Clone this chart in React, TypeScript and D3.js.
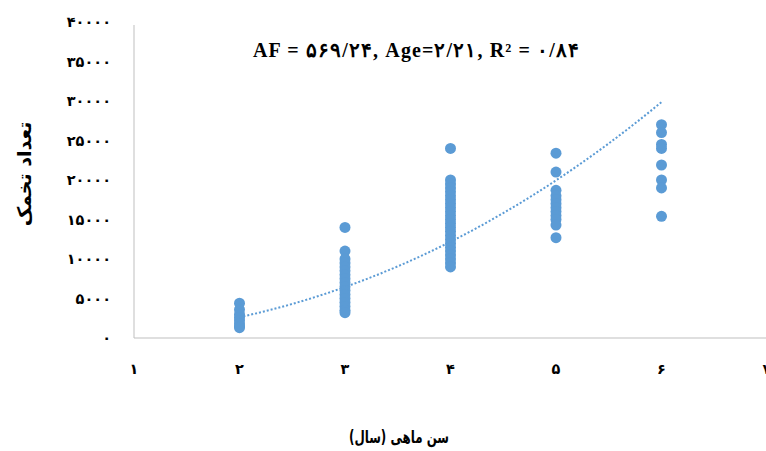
import React from "react";
import * as d3 from "d3";

const W = 766;
const H = 451;

const age2 = [4400, 3600, 3000, 2600, 2200, 1800, 1500, 1300];
const age3 = [14000, 11000, 10000, 9500, 9000, 8500, 8000, 7500, 7000, 6500, 6000, 5500, 5000, 4500, 4000, 3500, 3200];
const age4 = [24000, 20000, 19500, 19000, 18500, 18000, 17500, 17000, 16500, 16000, 15500, 15000, 14500, 14000, 13500, 13000, 12500, 12000, 11500, 11000, 10500, 10000, 9500, 9000];
const age5 = [23400, 21000, 18700, 18000, 17500, 17000, 16500, 16000, 15500, 15000, 14300, 12700];
const age6 = [27000, 26000, 24500, 24000, 21900, 20000, 19000, 15400];

const groups: [number, number[]][] = [
  [2, age2],
  [3, age3],
  [4, age4],
  [5, age5],
  [6, age6],
];

const yTicks = [0, 5000, 10000, 15000, 20000, 25000, 30000, 35000, 40000];
const xTicks = [1, 2, 3, 4, 5, 6, 7];

// power trendline AF = a * Age^b
const trendA = 569.24;
const trendB = 2.21;
const trendAges = [2, 2.25, 2.5, 2.75, 3, 3.25, 3.5, 3.75, 4, 4.25, 4.5, 4.75, 5, 5.25, 5.5, 5.75, 6];

const titleText = "AF = ۵۶۹/۲۴, Age=۲/۲۱, R² = ۰/۸۴";
const yTitle = "تعداد تخمک";
const xTitle = "سن ماهی (سال)";

const toFa = (s: string) => s.replace(/[0-9]/g, (d) => "۰۱۲۳۴۵۶۷۸۹"[+d]);

export default function App() {
  const x = d3.scaleLinear().domain([1, 7]).range([134, 767]);
  const y = d3.scaleLinear().domain([0, 40000]).range([338, 22]);
  const color = "#5B9BD5";

  const line = d3
    .line<number>()
    .x((a) => x(a))
    .y((a) => y(trendA * Math.pow(a, trendB)))
    .curve(d3.curveMonotoneX);

  const pts: { a: number; v: number }[] = [];
  groups.forEach(([a, vals]) => vals.forEach((v) => pts.push({ a, v })));

  const font = "'DejaVu Sans', sans-serif";

  return (
    <svg
      width={W}
      height={H}
      style={{ position: "absolute", left: 0, top: 0, background: "#fff" }}
    >
      <line x1={134} x2={134} y1={25} y2={338} stroke="#BFBFBF" strokeWidth={1} />
      <line x1={134} x2={766} y1={338} y2={338} stroke="#BFBFBF" strokeWidth={1} />

      {yTicks.map((t) => (
        <text
          key={"y" + t}
          x={111}
          y={y(t)}
          dy="0.35em"
          textAnchor="end"
          fontFamily={font}
          fontWeight="bold"
          fontSize={14.5}
          fill="#000"
        >
          {toFa(String(t))}
        </text>
      ))}
      {xTicks.map((t) => (
        <text
          key={"x" + t}
          x={x(t)}
          y={369}
          dy="0.35em"
          textAnchor="middle"
          fontFamily={font}
          fontWeight="bold"
          fontSize={14.5}
          fill="#000"
        >
          {toFa(String(t))}
        </text>
      ))}

      {pts.map((p, i) => (
        <circle key={i} cx={x(p.a)} cy={y(p.v)} r={5.5} fill={color} />
      ))}

      <path
        d={line(trendAges) || ""}
        fill="none"
        stroke={color}
        strokeWidth={2}
        strokeDasharray="2,2"
      />

      <text
        x={416}
        y={50}
        dy="0.35em"
        textAnchor="middle"
        textLength={326}
        lengthAdjust="spacing"
        fontFamily="'Liberation Serif', 'DejaVu Serif', serif"
        fontWeight="bold"
        fontSize={20}
        fill="#000"
      >
        {titleText}
      </text>

      <text
        transform="translate(24,174) rotate(-90)"
        textAnchor="middle"
        direction="rtl"
        dy="0.35em"
        fontFamily={font}
        fontWeight="bold"
        fontSize={19}
        fill="#000"
      >
        {yTitle}
      </text>

      <text
        x={399}
        y={437}
        dy="0.35em"
        textAnchor="middle"
        direction="rtl"
        textLength={100}
        lengthAdjust="spacingAndGlyphs"
        fontFamily={font}
        fontWeight="bold"
        fontSize={17}
        fill="#000"
      >
        {xTitle}
      </text>
    </svg>
  );
}
